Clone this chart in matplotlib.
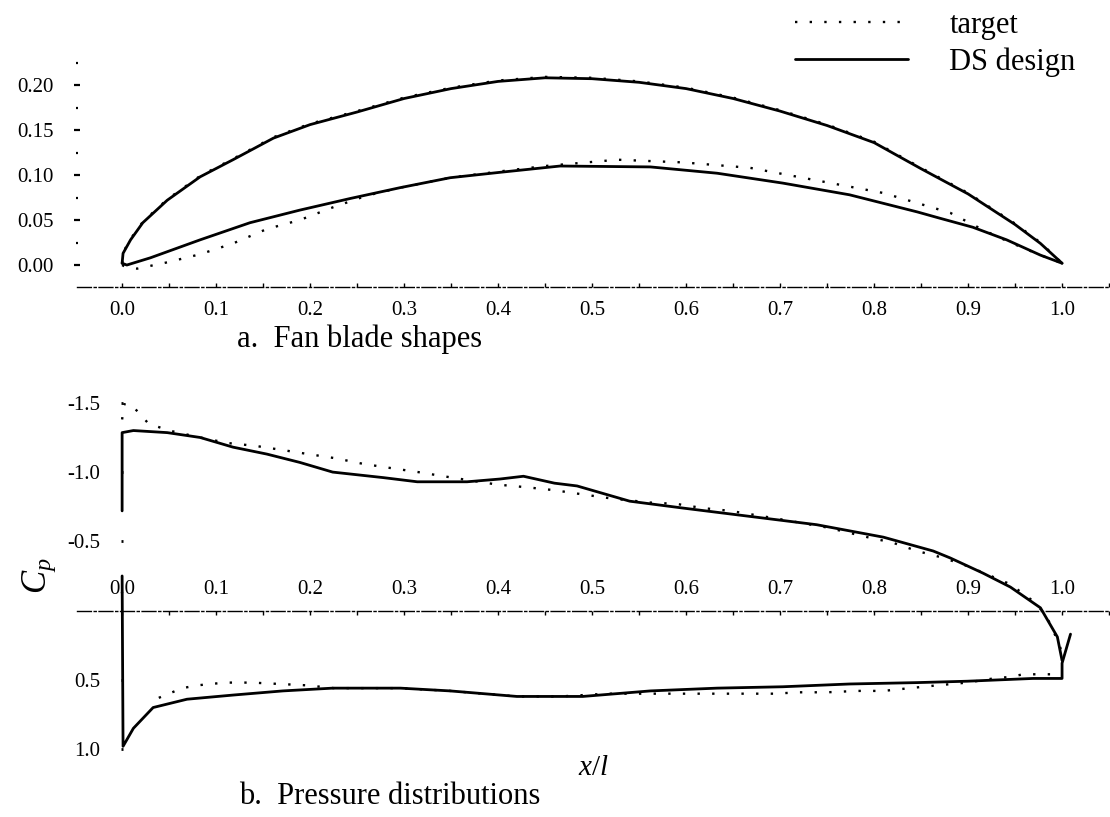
import matplotlib
matplotlib.use("Agg")
import matplotlib.pyplot as plt
from matplotlib.lines import Line2D
from matplotlib.ticker import MultipleLocator, FixedLocator

plt.rcParams['font.family'] = ['Liberation Serif', 'DejaVu Serif']
plt.rcParams['mathtext.fontset'] = 'custom'
plt.rcParams['mathtext.rm'] = 'Liberation Serif'
plt.rcParams['mathtext.it'] = 'Liberation Serif:italic'

# ---------------- data: a. fan blade shapes ----------------
ds_upper_x = [0.0, 0.001, 0.009, 0.022, 0.048, 0.083, 0.118, 0.161, 0.2, 0.25, 0.3, 0.35,
              0.4, 0.45, 0.5, 0.55, 0.6, 0.65, 0.7, 0.75, 0.8, 0.85, 0.9, 0.95, 0.977, 1.0]
ds_upper_y = [0.002, 0.013, 0.028, 0.047, 0.072, 0.098, 0.117, 0.141, 0.156, 0.170, 0.185, 0.196,
              0.204, 0.208, 0.207, 0.203, 0.196, 0.185, 0.171, 0.155, 0.136, 0.107, 0.079, 0.045, 0.024, 0.002]
tg_upper_x = [0.0, 0.001, 0.009, 0.022, 0.048, 0.083, 0.118, 0.161, 0.2, 0.25, 0.3, 0.35,
              0.4, 0.45, 0.5, 0.55, 0.6, 0.65, 0.7, 0.75, 0.8, 0.85, 0.9, 0.95, 0.977, 1.0]
tg_upper_y = [0.002, 0.014, 0.029, 0.048, 0.073, 0.099, 0.118, 0.142, 0.157, 0.171, 0.186, 0.197,
              0.205, 0.209, 0.208, 0.204, 0.197, 0.186, 0.172, 0.156, 0.137, 0.108, 0.080, 0.046, 0.025, 0.002]
ds_lower_x = [0.0, 0.005, 0.030, 0.083, 0.136, 0.189, 0.243, 0.296, 0.349, 0.402, 0.466,
              0.562, 0.633, 0.703, 0.774, 0.846, 0.870, 0.905, 0.941, 0.977, 1.0]
ds_lower_y = [0.002, 0.0, 0.008, 0.028, 0.047, 0.061, 0.074, 0.086, 0.097, 0.103, 0.110,
              0.109, 0.102, 0.091, 0.078, 0.059, 0.052, 0.042, 0.028, 0.011, 0.002]
tg_lower_x = [0.0, 0.005, 0.016, 0.048, 0.083, 0.118, 0.154, 0.189, 0.224, 0.26, 0.296, 0.349,
              0.402, 0.45, 0.527, 0.597, 0.668, 0.739, 0.81, 0.881, 0.916, 0.945, 0.977, 1.0]
tg_lower_y = [0.0, -0.003, -0.004, 0.003, 0.012, 0.024, 0.040, 0.050, 0.064, 0.077, 0.086, 0.097,
              0.104, 0.110, 0.117, 0.114, 0.108, 0.094, 0.080, 0.058, 0.039, 0.025, 0.011, 0.002]

# ---------------- data: b. pressure distributions ----------------
ds_suc_x = [0.0, 0.0, 0.012, 0.048, 0.083, 0.118, 0.154, 0.189, 0.224, 0.278, 0.314, 0.367,
            0.402, 0.427, 0.46, 0.484, 0.54, 0.597, 0.668, 0.739, 0.81, 0.863, 0.881, 0.916,
            0.945, 0.977, 0.995, 1.0]
ds_suc_cp = [-0.72, -1.285, -1.30, -1.285, -1.25, -1.18, -1.13, -1.07, -1.00, -0.96, -0.93, -0.93,
             -0.95, -0.97, -0.92, -0.90, -0.79, -0.74, -0.68, -0.62, -0.53, -0.43, -0.38, -0.27,
             -0.17, -0.02, 0.19, 0.36]
ds_pre_x = [0.0, 0.001, 0.012, 0.033, 0.069, 0.118, 0.171, 0.224, 0.296, 0.349, 0.42, 0.466,
            0.49, 0.562, 0.633, 0.703, 0.774, 0.846, 0.899, 0.969, 1.0, 1.0, 1.009]
ds_pre_cp = [-0.25, 0.98, 0.85, 0.70, 0.64, 0.61, 0.58, 0.56, 0.56, 0.58, 0.62, 0.62,
             0.62, 0.58, 0.56, 0.55, 0.53, 0.52, 0.51, 0.49, 0.49, 0.38, 0.17]
tg_suc_x = [0.0, 0.002, 0.009, 0.019, 0.028, 0.05, 0.083, 0.112, 0.141, 0.17, 0.198, 0.227,
            0.256, 0.285, 0.315, 0.342, 0.37, 0.399, 0.431, 0.459, 0.489, 0.52, 0.562, 0.59,
            0.618, 0.647, 0.70, 0.75, 0.793, 0.82, 0.846, 0.874, 0.9, 0.945, 0.969, 0.98,
            0.987, 0.998, 1.0]
tg_suc_cp = [-1.38, -1.49, -1.49, -1.42, -1.35, -1.30, -1.25, -1.21, -1.19, -1.16, -1.13, -1.10,
             -1.06, -1.03, -1.00, -0.97, -0.94, -0.91, -0.89, -0.87, -0.84, -0.81, -0.78, -0.77,
             -0.74, -0.72, -0.66, -0.60, -0.53, -0.49, -0.43, -0.38, -0.32, -0.19, -0.07, 0.01,
             0.09, 0.26, 0.35]
tg_pre_x = [0.039, 0.064, 0.08, 0.094, 0.11, 0.138, 0.168, 0.197, 0.225, 0.296, 0.349, 0.42,
            0.466, 0.516, 0.548, 0.604, 0.661, 0.693, 0.721, 0.75, 0.782, 0.81, 0.838, 0.867,
            0.899, 0.927, 0.943, 0.959, 0.987, 1.0]
tg_pre_cp = [0.63, 0.56, 0.54, 0.53, 0.52, 0.52, 0.53, 0.54, 0.56, 0.56, 0.58, 0.62,
             0.62, 0.60, 0.60, 0.60, 0.60, 0.60, 0.59, 0.59, 0.58, 0.58, 0.56, 0.54,
             0.52, 0.49, 0.48, 0.46, 0.46, 0.46]

x_ticks = [0.0, 0.1, 0.2, 0.3, 0.4, 0.5, 0.6, 0.7, 0.8, 0.9, 1.0]
x_tick_labels = ["0.0", "0.1", "0.2", "0.3", "0.4", "0.5", "0.6", "0.7", "0.8", "0.9", "1.0"]
shape_y_ticks = [0.0, 0.05, 0.10, 0.15, 0.20]
shape_y_labels = ["0.00", "0.05", "0.10", "0.15", "0.20"]
cp_ticks = [-1.5, -1.0, -0.5, 0.5, 1.0]
cp_labels = ["-1.5", "-1.0", "-0.5", "0.5", "1.0"]

W, H = 1110, 817
fig = plt.figure(figsize=(W / 100, H / 100), dpi=100)

solid_kw = dict(color='black', lw=2.0, solid_joinstyle='round', solid_capstyle='round')
dot_kw = dict(color='black', lw=1.7, linestyle=(0, (1, 5.2)))
axis_ls = (0, (10, 2, 1.5, 2))
tick_fs = 15

XL = (-0.048, 1.051)

# ---------------- top panel ----------------
ax1 = fig.add_axes([77 / W, 1 - 287 / H, 1 - 77 / W, (287 - 58) / H])
ax1.set_xlim(*XL)
ax1.set_ylim(-0.0244, 0.23)
ax1.plot(tg_upper_x, tg_upper_y, **dot_kw)
ax1.plot(tg_lower_x, tg_lower_y, **dot_kw)
ax1.plot(ds_upper_x, ds_upper_y, **solid_kw)
ax1.plot(ds_lower_x, ds_lower_y, **solid_kw)
for s in ['top', 'right', 'left']:
    ax1.spines[s].set_visible(False)
ax1.spines['bottom'].set_linestyle(axis_ls)
ax1.spines['bottom'].set_linewidth(1.0)
ax1.xaxis.set_major_locator(FixedLocator(x_ticks))
ax1.set_xticklabels(x_tick_labels)
ax1.xaxis.set_minor_locator(MultipleLocator(0.05))
ax1.tick_params(axis='x', which='both', direction='in', length=3, width=1, pad=10, labelsize=tick_fs)
ax1.yaxis.set_major_locator(FixedLocator(shape_y_ticks))
ax1.set_yticklabels(shape_y_labels)
ax1.yaxis.set_minor_locator(FixedLocator([0.025, 0.075, 0.125, 0.175, 0.225]))
ax1.tick_params(axis='y', which='major', direction='inout', length=4, width=1.6, pad=15, labelsize=tick_fs)
ax1.tick_params(axis='y', which='minor', direction='inout', length=1.6, width=1.6)
ax1.patch.set_alpha(0)

# ---------------- bottom panel ----------------
ax2 = fig.add_axes([77 / W, 1 - 756 / H, 1 - 77 / W, (756 - 389) / H])
ax2.set_xlim(*XL)
ax2.set_ylim(1.05, -1.6)
ax2.plot(tg_suc_x, tg_suc_cp, **dot_kw)
ax2.plot(tg_pre_x, tg_pre_cp, **dot_kw)
ax2.plot(ds_suc_x, ds_suc_cp, **solid_kw)
ax2.plot(ds_pre_x, ds_pre_cp, **solid_kw)
for s in ['bottom', 'right', 'left']:
    ax2.spines[s].set_visible(False)
ax2.spines['left'].set_position(('data', 0.0))
ax2.spines['top'].set_position(('data', 0.0))
ax2.spines['top'].set_linestyle(axis_ls)
ax2.spines['top'].set_linewidth(1.0)
ax2.xaxis.set_ticks_position('top')
ax2.xaxis.set_major_locator(FixedLocator(x_ticks))
ax2.set_xticklabels(x_tick_labels)
ax2.xaxis.set_minor_locator(MultipleLocator(0.05))
ax2.tick_params(axis='x', which='both', direction='in', length=3, width=1, pad=8, labelsize=tick_fs)
ax2.yaxis.set_major_locator(FixedLocator(cp_ticks))
ax2.set_yticklabels(cp_labels)
ax2.tick_params(axis='y', which='major', direction='inout', length=2, width=2, pad=15, labelsize=tick_fs)
ax2.patch.set_alpha(0)

fig.text(39 / W, 1 - 576 / H, r'$C_p$', rotation=90, ha='center', va='center', fontsize=25)
fig.text(593 / W, 1 - 768 / H, r'$x/l$', ha='center', va='center', fontsize=21)
fig.text(360 / W, 1 - 339 / H, 'a.  Fan blade shapes', ha='center', va='center', fontsize=22)
fig.text(390 / W, 1 - 797 / H, 'b.  Pressure distributions', ha='center', va='center', fontsize=22)

handles = [Line2D([], [], **dot_kw), Line2D([], [], **solid_kw)]
fig.legend(handles, ['target', 'DS design'], loc='upper left',
           bbox_to_anchor=(795 / W, 1 - 11 / H),
           frameon=False, fontsize=22, handlelength=3.7, handletextpad=1.35,
           labelspacing=0.25, borderaxespad=0.0, borderpad=0.0)

fig.savefig('out.png', dpi=100)
